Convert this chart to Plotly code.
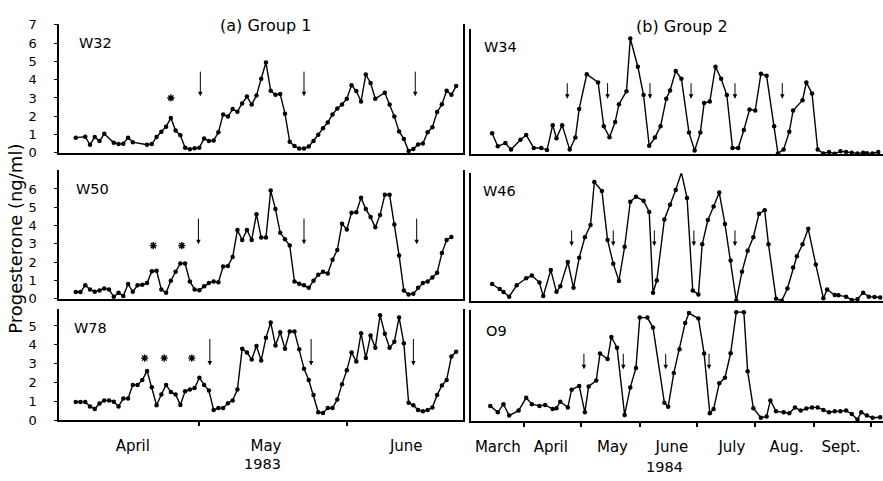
import pandas as pd
import plotly.graph_objects as go

# ---------------- data ----------------
# Group 1 (1983): day offsets counted from 1 April 1983
w32_day = [4, 6, 7, 8, 9, 10, 12, 13, 14, 15, 16, 19, 20, 21, 22, 23, 24, 25, 26, 27,
           28, 29, 30, 31, 32, 33, 34, 35, 36, 37, 38, 39, 40, 41, 42, 43, 44, 45, 46, 47,
           48, 49, 50, 51, 52, 53, 54, 55, 56, 57, 58, 59, 60, 61, 62, 63, 64, 65, 66, 67,
           69, 70, 71, 72, 73, 74, 75, 76, 77, 78, 79, 80, 81, 82, 83, 84]
w32_val = [0.83, 0.88, 0.44, 0.87, 0.64, 1.04, 0.55, 0.48, 0.5, 0.83, 0.58, 0.44, 0.48, 0.87,
           1.15, 1.43, 1.9, 1.22, 0.96, 0.28, 0.2, 0.25, 0.28, 0.78, 0.64, 0.67, 1.13, 2.1,
           1.98, 2.39, 2.25, 2.7, 3.08, 2.64, 3.13, 4.05, 4.94, 3.4, 3.17, 3.22, 2.14, 0.6,
           0.37, 0.23, 0.23, 0.34, 0.64, 0.99, 1.35, 1.66, 2.1, 2.42, 2.64, 2.96, 3.7, 3.38,
           2.81, 4.28, 3.82, 2.96, 3.29, 2.64, 1.98, 1.17, 0.76, 0.1, 0.21, 0.46, 0.51, 1.13,
           1.4, 2.23, 2.65, 3.4, 3.17, 3.65]

w50_day = list(range(4, 84))
w50_val = [0.36, 0.36, 0.73, 0.5, 0.37, 0.44, 0.55, 0.5, 0.1, 0.32,
           0.14, 0.8, 0.37, 0.73, 0.76, 0.85, 1.5, 1.53, 0.5, 0.32,
           0.98, 1.47, 1.92, 1.92, 0.94, 0.5, 0.46, 0.67, 0.85, 0.94,
           0.9, 1.76, 1.79, 2.27, 3.75, 3.21, 3.75, 3.21, 4.62, 3.34,
           3.34, 5.91, 4.9, 3.6, 3.25, 2.9, 0.94, 0.82, 0.73, 0.59,
           0.98, 1.3, 1.47, 1.37, 2.13, 2.66, 4.1, 3.78, 4.7, 4.72,
           5.52, 4.9, 4.46, 3.9, 4.58, 5.68, 5.68, 4.05, 2.36, 0.44,
           0.23, 0.27, 0.59, 0.85, 0.94, 1.15, 1.42, 2.49, 3.21, 3.37]

w78_day = list(range(4, 85))
w78_val = [0.98, 0.98, 0.98, 0.74, 0.6, 0.89, 1.06, 1.06, 0.99, 0.74,
           1.16, 1.16, 1.88, 1.88, 2.14, 2.62, 1.75, 0.8, 1.37, 1.88,
           1.51, 1.37, 0.82, 1.54, 1.63, 1.71, 2.26, 1.88, 1.58, 0.55,
           0.65, 0.65, 0.91, 1.06, 1.63, 3.8, 3.6, 3.22, 3.94, 3.17,
           4.37, 5.19, 3.97, 4.67, 3.8, 4.71, 4.71, 3.77, 2.74, 2.14,
           1.34, 0.43, 0.39, 0.65, 0.65, 1.11, 1.92, 2.65, 3.6, 3.12,
           4.62, 3.3, 4.49, 3.85, 5.57, 4.59, 3.85, 4.16, 5.45, 4.08,
           0.94, 0.8, 0.55, 0.48, 0.55, 0.68, 1.34, 1.85, 2.14, 3.39, 3.63]

# Group 2 (1984): day offsets counted from 1 March 1984
w34_day = [14, 17, 21, 24, 29, 32, 36, 40, 43, 46, 48, 51, 55, 58, 60, 64, 70, 73, 76, 79,
           81, 85, 87, 91, 94, 97, 100, 103, 106, 108, 111, 114, 118, 121, 124, 126, 129, 132,
           135, 138, 141, 144, 147, 150, 153, 156, 159, 163, 165, 168, 171, 173, 178, 180, 183,
           186, 189, 192, 195, 198, 201, 204, 207, 210, 212, 215, 218]
w34_val = [1.12, 0.41, 0.59, 0.23, 0.77, 1.03, 0.32, 0.32, 0.2, 1.57, 0.85, 1.57, 0.23, 0.89,
           2.46, 4.36, 3.91, 1.51, 0.91, 1.74, 2.72, 3.43, 6.32, 4.77, 3.22, 0.44, 0.89, 1.51,
           3.02, 3.47, 4.54, 4.11, 1.16, 0.18, 1.16, 2.78, 2.86, 4.77, 4.11, 3.22, 0.32, 0.32,
           1.3, 2.42, 2.37, 4.38, 4.27, 1.51, 0.02, 0.23, 1.21, 2.37, 2.94, 3.91, 3.31, 0.23,
           0.02, 0.1, 0.0, 0.14, 0.1, 0.05, 0.02, 0.05, 0.03, 0.02, 0.1]

w46_day = [14, 18, 20, 23, 27, 32, 35, 39, 41, 45, 48, 50, 54, 57, 60, 63, 66, 68, 72, 75,
           78, 81, 84, 87, 90, 94, 97, 99, 101, 105, 108, 111, 114, 117, 120, 123, 125, 128,
           131, 134, 137, 140, 143, 146, 149, 152, 155, 158, 160, 164, 167, 170, 173, 175, 178,
           181, 185, 189, 191, 195, 197, 201, 204, 207, 210, 213, 216, 219]
w46_val = [0.92, 0.65, 0.48, 0.23, 0.85, 1.23, 1.38, 1.0, 0.26, 1.68, 0.49, 0.79, 2.12, 0.71,
           2.35, 3.47, 4.14, 6.49, 6.0, 3.32, 2.03, 1.09, 2.95, 5.41, 5.68, 5.47, 4.85, 0.44,
           1.11, 4.44, 5.24, 6.05, 7.0, 5.61, 0.56, 0.35, 3.09, 4.41, 5.15, 5.91, 4.2, 2.2,
           0.0, 1.59, 2.73, 3.47, 4.76, 4.94, 3.09, 0.12, 0.0, 0.67, 1.82, 2.43, 3.09, 3.93,
           1.98, 0.14, 0.62, 0.32, 0.3, 0.23, 0.04, 0.09, 0.44, 0.23, 0.21, 0.18]

o9_day = [13, 17, 20, 23, 28, 32, 35, 39, 42, 46, 48, 50, 54, 56, 60, 63, 65, 69, 71, 75,
          77, 80, 84, 87, 90, 92, 96, 99, 105, 107, 110, 113, 116, 118, 123, 126, 129, 131,
          134, 137, 140, 143, 147, 149, 152, 156, 159, 161, 164, 168, 171, 174, 177, 180, 183,
          186, 189, 192, 195, 198, 201, 204, 207, 209, 212, 215, 219]
o9_val = [0.82, 0.48, 0.91, 0.31, 0.57, 1.25, 0.91, 0.82, 0.87, 0.65, 0.7, 1.04, 0.74, 1.68,
          1.88, 0.48, 1.85, 2.16, 3.6, 3.3, 4.47, 3.9, 0.34, 1.8, 2.83, 5.5, 5.5, 4.97, 0.99,
          0.77, 2.57, 3.82, 5.22, 5.74, 5.45, 3.6, 0.43, 0.65, 2.02, 2.31, 3.61, 5.79, 5.79,
          2.65, 0.7, 0.19, 0.26, 1.11, 0.53, 0.48, 0.43, 0.74, 0.57, 0.68, 0.74, 0.74, 0.6,
          0.48, 0.53, 0.53, 0.57, 0.39, 0.1, 0.48, 0.31, 0.19, 0.22]

# arrow (day offset) and asterisk markers
w32_arrows = [30.2, 52.0, 75.4]
w50_arrows = [29.8, 52.0, 75.7]
w78_arrows = [32.2, 53.5, 75.0]
w34_arrows = [53.7, 75.0, 97.4, 119.1, 142.3, 167.3]
w46_arrows = [56.0, 78.0, 99.7, 120.6, 142.3]
o9_arrows = [62.5, 83.3, 105.7, 128.6]
w32_stars = [24.0]
w50_stars = [20.3, 26.3]
w78_stars = [18.5, 22.6, 28.4]

# month tick labels (label text and where it is centred)
months_1983 = ["April", "May", "June"]
months_1983_at = ["1983-04-17", "1983-05-15", "1983-06-13 12:00"]
months_1984 = ["March", "April", "May", "June", "July", "Aug.", "Sept."]
months_1984_at = ["1984-03-18", "1984-04-15", "1984-05-17 14:00", "1984-06-18",
                  "1984-07-19 16:00", "1984-08-17 14:00", "1984-09-15 08:00"]

panel_names = ["W32", "W50", "W78", "W34", "W46", "O9"]
group_titles = ["(a) Group 1", "(b) Group 2"]
year_labels = ["1983", "1984"]
y_title = "Progesterone (ng/ml)"

START83 = pd.Timestamp("1983-04-01")
START84 = pd.Timestamp("1984-03-01")


def dates(start, days):
    return [start + pd.Timedelta(days=d) for d in days]


# ---------------- layout geometry ----------------
W, H = 883, 481
FONT = "DejaVu Sans"


def px(x):
    return x / W


def py(y):
    return 1 - y / H


LEFT_X = [px(58.5), px(462.5)]
RIGHT_X = [px(470.5), 1.0]
LEFT_RANGE = ["1983-04-01 09:00", "1983-06-25 08:00"]
RIGHT_RANGE = ["1984-03-03 14:00", "1984-10-07 12:00"]

panels = [
    # name, days, vals, start, col, (bottom px, top px), yrange, tickvals, arrows, tip, len, stars, star_y
    ("W32", w32_day, w32_val, START83, 0, (150.5, 17.5), [0, 7.05], list(range(8)), w32_arrows, 3.1, 26, w32_stars, 3.0),
    ("W50", w50_day, w50_val, START83, 0, (301.0, 168.0), [0, 7.05], list(range(7)), w50_arrows, 2.98, 27, w50_stars, 2.9),
    ("W78", w78_day, w78_val, START83, 0, (426.7, 311.7), [0, 5.9], list(range(6)), w78_arrows, 2.91, 28, w78_stars, 3.3),
    ("W34", w34_day, w34_val, START84, 1, (151.5, 22.7), [0, 6.84], [], w34_arrows, 3.02, 17, [], 0),
    ("W46", w46_day, w46_val, START84, 1, (303.3, 171.7), [0, 6.96], [], w46_arrows, 3.0, 17, [], 0),
    ("O9", o9_day, o9_val, START84, 1, (427.7, 313.0), [0, 5.89], [], o9_arrows, 2.76, 17, [], 0),
]

label_pos = {"W32": (95, 37), "W50": (92, 188), "W78": (90, 331),
             "W34": (500, 41), "W46": (499, 190), "O9": (496, 334)}

fig = go.Figure()
annotations = []
layout = dict(
    width=W, height=H,
    margin=dict(l=0, r=0, t=0, b=0),
    paper_bgcolor="white", plot_bgcolor="white",
    showlegend=False,
    font=dict(family=FONT, color="black"),
)

for i, (name, days, vals, start, col, (yb, yt), yr, tv, arrows, tip, alen, stars, sy) in enumerate(panels):
    k = i + 1
    xa, ya = f"x{k}", f"y{k}"
    bottom_row = name in ("W78", "O9")
    fig.add_trace(go.Scatter(
        x=dates(start, days), y=vals, xaxis=xa, yaxis=ya,
        mode="lines+markers",
        line=dict(color="black", width=1.4),
        marker=dict(color="black", size=4.5),
        cliponaxis=False, hoverinfo="skip",
    ))
    if stars:
        fig.add_trace(go.Scatter(
            x=dates(start, stars), y=[sy] * len(stars), xaxis=xa, yaxis=ya,
            mode="markers",
            marker=dict(symbol="asterisk-open", size=6, color="black",
                        line=dict(color="black", width=1.4)),
            cliponaxis=False, hoverinfo="skip",
        ))
    xkey = "xaxis" if k == 1 else f"xaxis{k}"
    ykey = "yaxis" if k == 1 else f"yaxis{k}"
    layout[xkey] = dict(
        domain=LEFT_X if col == 0 else RIGHT_X,
        anchor=ya, type="date",
        range=LEFT_RANGE if col == 0 else RIGHT_RANGE,
        showline=True, linecolor="black", linewidth=2,
        showgrid=False, zeroline=False,
        tickmode="array",
        tickvals=months_1983_at if col == 0 else months_1984_at,
        ticktext=months_1983 if col == 0 else months_1984,
        ticks="", showticklabels=bottom_row,
        minor=dict(ticks="outside" if bottom_row else "", ticklen=4, tickwidth=1.5,
                   tickcolor="black", dtick="M1", tick0="1983-01-01", showgrid=False),
        tickfont=dict(family=FONT, size=15, color="black"),
        ticklabelstandoff=11,
    )
    layout[ykey] = dict(
        domain=[py(yb), py(yt)], anchor=xa, range=yr,
        showline=True, linecolor="black", linewidth=2,
        mirror=(col == 0),
        showgrid=False, zeroline=False,
        tickmode="array", tickvals=tv,
        ticks="outside" if col == 0 else "", ticklen=3, tickcolor="black",
        showticklabels=(col == 0),
        tickfont=dict(family=FONT, size=13, color="black"),
        ticklabelstandoff=14,
    )
    lx, ly = label_pos[name]
    annotations.append(dict(x=px(lx), y=py(ly), xref="paper", yref="paper",
                            text=name, showarrow=False, xanchor="center", yanchor="middle",
                            font=dict(family=FONT, size=14.5, color="black")))
    for a in arrows:
        annotations.append(dict(x=start + pd.Timedelta(days=a), y=tip, xref=xa, yref=ya,
                                text="", showarrow=True, arrowhead=2, arrowsize=0.9,
                                arrowwidth=1, arrowcolor="black", ax=0, ay=-alen, standoff=0))


def text_note(x, y, text, size, angle=0):
    return dict(x=px(x), y=py(y), xref="paper", yref="paper", text=text,
                showarrow=False, xanchor="center", yanchor="middle", textangle=angle,
                font=dict(family=FONT, size=size, color="black"))


annotations += [
    text_note(265, 19.3, group_titles[0], 16),
    text_note(682, 20.5, group_titles[1], 16),
    text_note(262, 471.5, year_labels[0], 14.5),
    text_note(664, 474.5, year_labels[1], 14.5),
    text_note(15.3, 239, y_title, 18, -90),
]
layout["annotations"] = annotations
fig.update_layout(**layout)
fig.write_html(
    "out.html",
    config={"displayModeBar": False},
    post_script="document.body.style.margin='0px';document.body.style.overflow='hidden';",
)
